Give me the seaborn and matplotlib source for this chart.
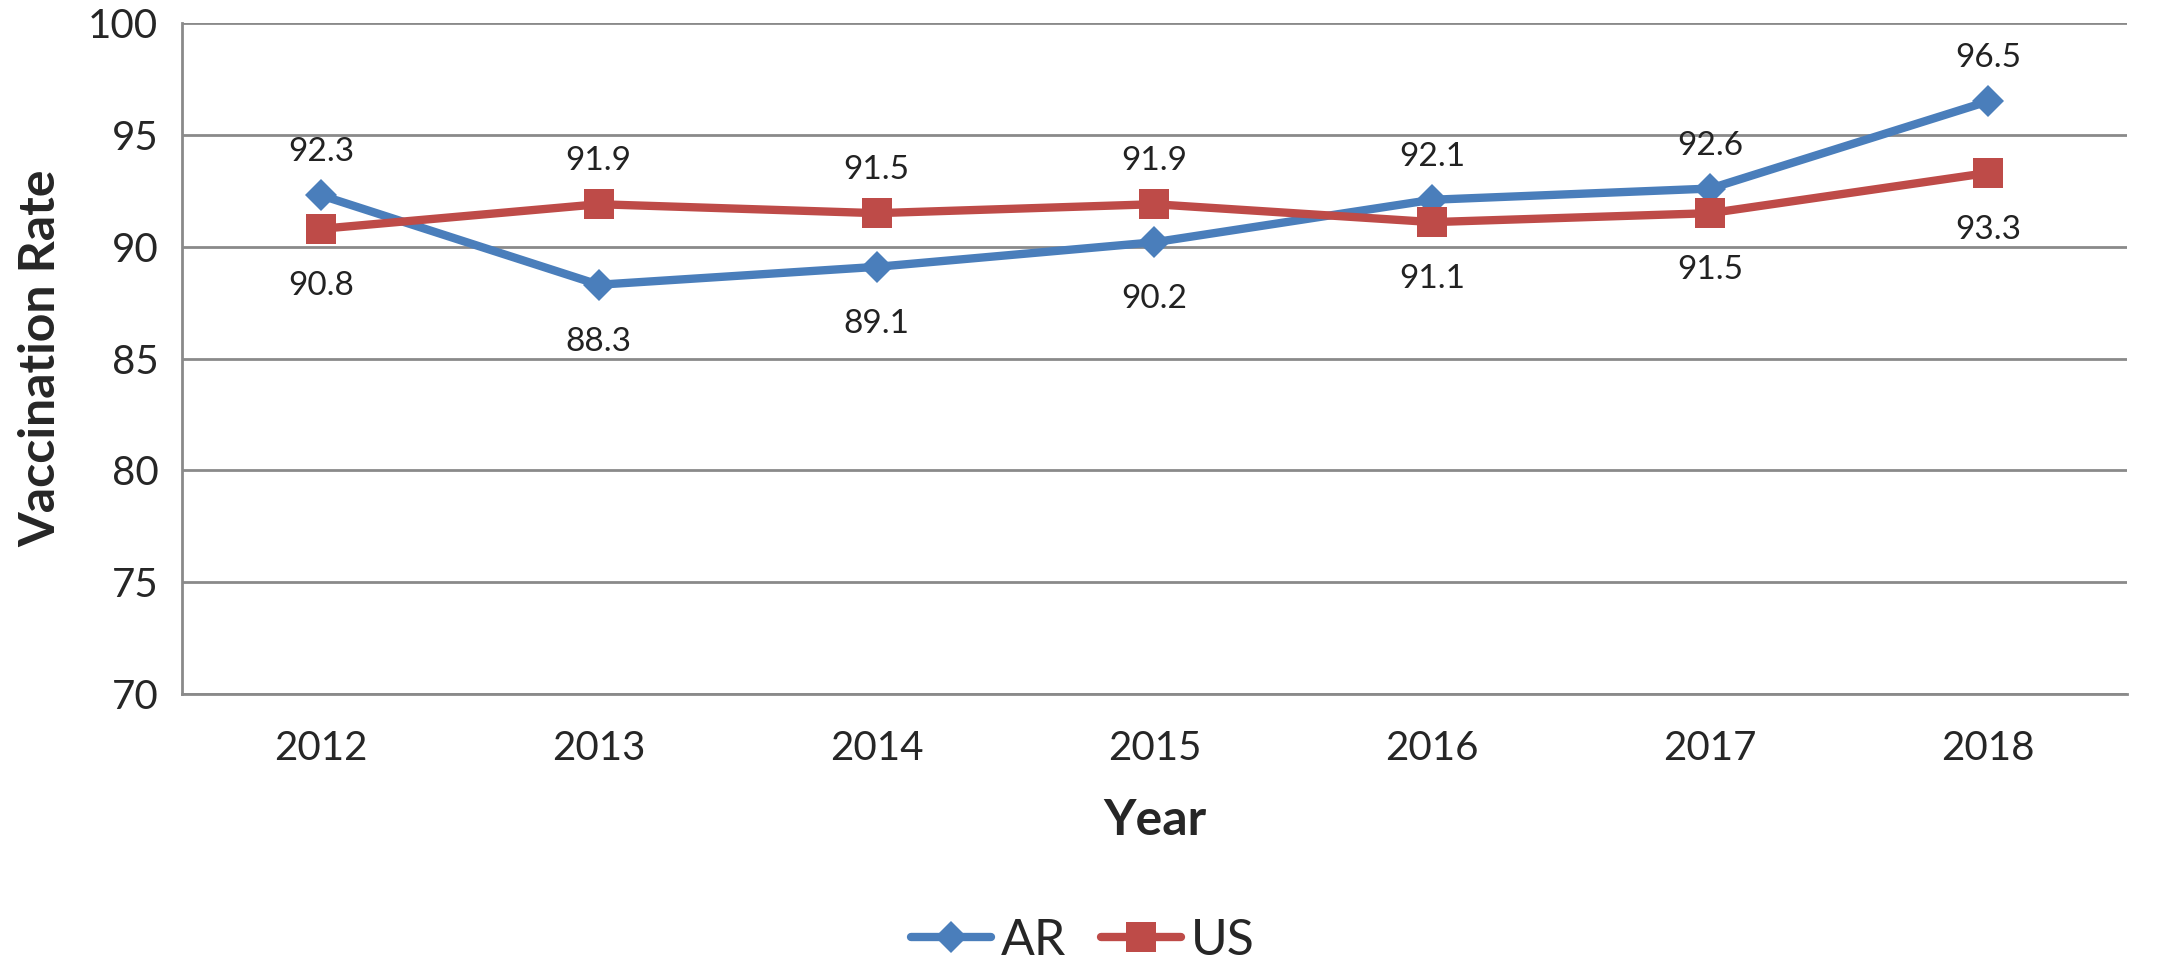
import matplotlib
matplotlib.use('Agg')
import pandas as pd
import matplotlib.pyplot as plt
import seaborn as sns

years = ['2012', '2013', '2014', '2015', '2016', '2017', '2018']
ar_rate = [92.3, 88.3, 89.1, 90.2, 92.1, 92.6, 96.5]
us_rate = [90.8, 91.9, 91.5, 91.9, 91.1, 91.5, 93.3]

sns.set_style('white')
plt.rcParams['font.family'] = ['Lato', 'DejaVu Sans']

df = pd.DataFrame({
    'Year': years * 2,
    'Rate': ar_rate + us_rate,
    'Series': ['AR'] * len(years) + ['US'] * len(years),
})

colors = {'AR': '#4A7EBB', 'US': '#BE4B48'}
markers = {'AR': 'D', 'US': 's'}
sizes = {'AR': 16, 'US': 21}

fig = plt.figure(figsize=(21.66, 9.6), dpi=100)
ax = fig.add_axes([0.084, 0.277, 0.898, 0.699])

for name in ['AR', 'US']:
    sub = df[df['Series'] == name]
    sns.lineplot(data=sub, x='Year', y='Rate', ax=ax, color=colors[name],
                 marker=markers[name], markersize=sizes[name], markeredgewidth=0,
                 linewidth=6, label=name, sort=False)

# data labels: above for the higher series, below for the lower
for i, (a, u) in enumerate(zip(ar_rate, us_rate)):
    for v, other in ((a, u), (u, a)):
        above = v >= other
        ax.annotate(f'{v:.1f}', (i, v), xytext=(0, 31 if above else -41),
                    textcoords='offset points', ha='center', va='center',
                    fontsize=24, color='#222222')

ax.set_ylim(70, 100)
ax.set_xlim(-0.5, 6.5)
ax.set_yticks(range(70, 101, 5))
ax.yaxis.grid(True, color='#8a8a8a', linewidth=2)
ax.set_axisbelow(True)
for s in ['top', 'right']:
    ax.spines[s].set_visible(False)
for s in ['left', 'bottom']:
    ax.spines[s].set_color('#8a8a8a')
    ax.spines[s].set_linewidth(2)
ax.tick_params(axis='y', length=9, width=2, color='#8a8a8a', labelsize=29, pad=8)
ax.tick_params(axis='x', length=0, labelsize=29, pad=26)
ax.set_xlabel('Year', fontsize=36, fontweight='bold', labelpad=22)
ax.set_ylabel('Vaccination Rate', fontsize=36, fontweight='bold', labelpad=18)

ax.legend_.remove()
handles, labels = ax.get_legend_handles_labels()
fig.legend(handles, labels, loc='center', bbox_to_anchor=(0.5, 0.02), ncol=2,
           frameon=False, fontsize=36, handlelength=1.6, columnspacing=0.7,
           handletextpad=0.2)

fig.savefig('out.png', dpi=100)
